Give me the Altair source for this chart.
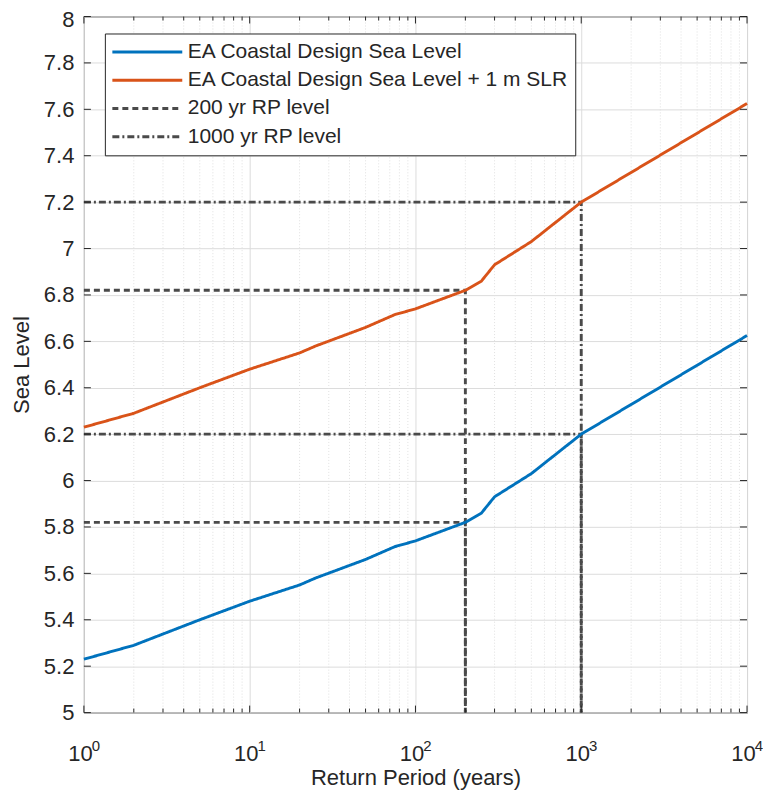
import altair as alt
import pandas as pd

# ---------------- data ----------------
return_period = [1, 2, 5, 10, 20, 25, 50, 75, 100, 200, 250, 300, 500, 1000, 10000]
design_level = [5.23, 5.29, 5.40, 5.48, 5.55, 5.58, 5.66, 5.715, 5.74, 5.82, 5.86, 5.93, 6.03, 6.20, 6.625]
design_level_slr = [6.23, 6.29, 6.40, 6.48, 6.55, 6.58, 6.66, 6.715, 6.74, 6.82, 6.86, 6.93, 7.03, 7.20, 7.625]

series_names = [
    "EA Coastal Design Sea Level",
    "EA Coastal Design Sea Level + 1 m SLR",
    "200 yr RP level",
    "1000 yr RP level",
]
series_colors = ["#0072BD", "#D95319", "#4a4a4a", "#4a4a4a"]
series_dash = [[1, 0], [1, 0], [6, 4], [7, 3, 2, 3]]
series_width = [2.9, 2.9, 1.1, 1.1]

rp_200 = 200
levels_200 = [5.82, 6.82]
rp_1000 = 1000
levels_1000 = [6.20, 7.20]

x_major = [1, 10, 100, 1000, 10000]
x_base_label = "10"
x_exponents = ["0", "1", "2", "3", "4"]
x_minor = [2, 3, 4, 5, 6, 7, 8, 9,
           20, 30, 40, 50, 60, 70, 80, 90,
           200, 300, 400, 500, 600, 700, 800, 900,
           2000, 3000, 4000, 5000, 6000, 7000, 8000, 9000]
y_ticks = [5, 5.2, 5.4, 5.6, 5.8, 6, 6.2, 6.4, 6.6, 6.8, 7, 7.2, 7.4, 7.6, 7.8, 8]
y_min, y_max = 5, 8

# ---------------- tables ----------------
curves = pd.DataFrame(
    {"rp": return_period + return_period,
     "level": design_level + design_level_slr,
     "series": [series_names[0]] * len(return_period) + [series_names[1]] * len(return_period)}
)

ref_rows = []
for name, rp, levels in [(series_names[2], rp_200, levels_200), (series_names[3], rp_1000, levels_1000)]:
    for lv in levels:
        g = f"{name}-{lv}"
        ref_rows.append({"rp": x_major[0], "level": lv, "series": name, "grp": g, "ord": 0})
        ref_rows.append({"rp": rp, "level": lv, "series": name, "grp": g, "ord": 1})
        ref_rows.append({"rp": rp, "level": y_min, "series": name, "grp": g, "ord": 2})
refs = pd.DataFrame(ref_rows)

exps = pd.DataFrame({"rp": x_major, "exp": x_exponents})

W, H = 664, 697
FONT = "Liberation Sans"
TXT = "#262626"

xscale = alt.Scale(type="log", domain=[x_major[0], x_major[-1]], nice=False)
yscale = alt.Scale(domain=[y_min, y_max], nice=False, zero=False)

x_axis = alt.Axis(
    values=x_major, labelExpr=f"'{x_base_label}'", labelFlush=False, labelOffset=-4,
    grid=True, gridColor="#dcdcdc",
    domain=False, ticks=False, tickSize=0, labelFontSize=22, labelPadding=48,
    labelBaseline="alphabetic", labelColor=TXT, labelFont=FONT,
    title="Return Period (years)", titleFontSize=22, titleFont=FONT,
    titleFontWeight="normal", titleColor=TXT, titleY=72, titleBaseline="alphabetic",
)
y_axis = alt.Axis(
    values=y_ticks, format="~g", grid=True, gridColor="#dcdcdc",
    domain=False, ticks=False, tickSize=0, labelFontSize=22, labelPadding=10,
    labelOffset=alt.condition(f"datum.value == {y_max}", alt.value(3), alt.value(0)),
    labelColor=TXT, labelFont=FONT,
    title="Sea Level", titleFontSize=22, titleFont=FONT, titleFontWeight="normal",
    titleColor=TXT, titleX=-62, titleY=H / 2, titleAngle=270, titleAlign="center",
    titleBaseline="middle",
)

legend = alt.Legend(
    title=None, orient="none", legendX=21, legendY=17, symbolType="stroke",
    symbolSize=4900, labelFontSize=21, labelFont=FONT, labelColor=TXT,
    labelLimit=700, fillColor="white", strokeColor=TXT, padding=6,
    clipHeight=25, rowPadding=3.3, labelOffset=4,
)

color_enc = alt.Color("series:N", scale=alt.Scale(domain=series_names, range=series_colors), legend=legend)
dash_enc = alt.StrokeDash("series:N", scale=alt.Scale(domain=series_names, range=series_dash), legend=legend)
width_enc = alt.StrokeWidth("series:N", scale=alt.Scale(domain=series_names, range=series_width), legend=legend)

# minor grid
minor_grid = alt.Chart(pd.DataFrame({"rp": x_minor})).mark_rule(
    color="#e0e0e0", strokeDash=[1, 2], strokeWidth=1
).encode(x=alt.X("rp:Q", scale=xscale, axis=x_axis), y=alt.value(0), y2=alt.value(H))

ref_lines = alt.Chart(refs).mark_line().encode(
    x=alt.X("rp:Q", scale=xscale, axis=x_axis),
    y=alt.Y("level:Q", scale=yscale, axis=y_axis),
    detail="grp:N", order="ord:Q",
    color=color_enc, strokeDash=dash_enc, strokeWidth=width_enc,
)

curve_lines = alt.Chart(curves).mark_line().encode(
    x=alt.X("rp:Q", scale=xscale, axis=x_axis),
    y=alt.Y("level:Q", scale=yscale, axis=y_axis),
    color=color_enc, strokeDash=dash_enc, strokeWidth=width_enc,
)

# superscript exponents of the x tick labels
exp_text = alt.Chart(exps).mark_text(
    font=FONT, fontSize=15, color=TXT, align="center", baseline="alphabetic", dx=12
).encode(x=alt.X("rp:Q", scale=xscale, axis=x_axis), y=alt.value(H + 38), text="exp:N")

# inward ticks (MATLAB box style)
def xticks(vals, y0, y1):
    return alt.Chart(pd.DataFrame({"rp": vals})).mark_rule(color=TXT, strokeWidth=1).encode(
        x=alt.X("rp:Q", scale=xscale, axis=x_axis), y=alt.value(y0), y2=alt.value(y1)
    )

def yticks(x0, x1):
    return alt.Chart(pd.DataFrame({"level": y_ticks})).mark_rule(color=TXT, strokeWidth=1).encode(
        y=alt.Y("level:Q", scale=yscale, axis=y_axis), x=alt.value(x0), x2=alt.value(x1)
    )

layers = [
    minor_grid, ref_lines, curve_lines, exp_text,
    xticks(x_major, H, H - 7), xticks(x_major, 0, 7),
    xticks(x_minor, H, H - 4), xticks(x_minor, 0, 4),
    yticks(0, 7), yticks(W, W - 7),
]

chart = alt.layer(*layers).properties(
    width=W, height=H, autosize=alt.AutoSizeParams(type="none"),
    padding={"left": 76, "top": 8, "right": 16, "bottom": 80},
    background="white",
).configure_view(stroke=TXT, strokeWidth=1)

chart.save("out.html", embed_options={"renderer": "svg", "actions": False})
